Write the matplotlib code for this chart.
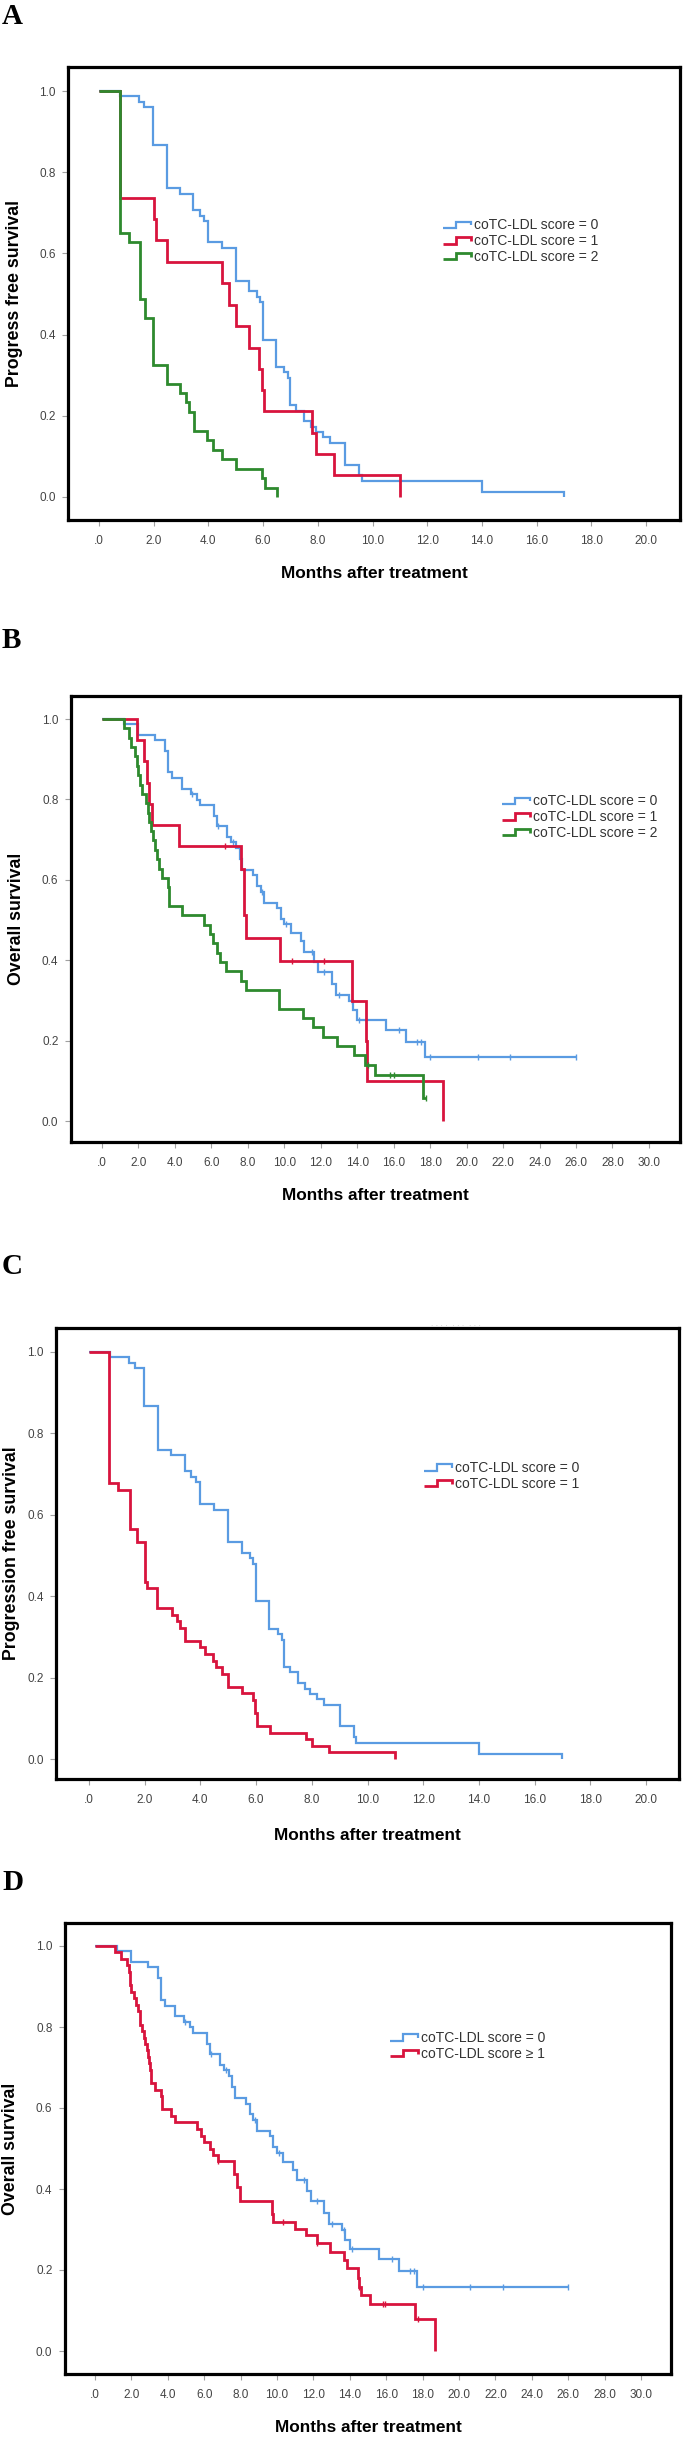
import numpy as np
import matplotlib
matplotlib.use("Agg")
import matplotlib.pyplot as plt
from matplotlib.legend_handler import HandlerBase
from matplotlib.lines import Line2D

# ---- Kaplan-Meier step data (time in months, survival) ----
# progression free survival, coTC-LDL score = 0
pfs0_t = [0, 0.75, 1.45, 1.65, 1.97, 2.47, 2.95, 3.45, 3.68, 3.85, 3.98, 4.48, 5.0, 5.48, 5.78, 5.9,
          6.0, 6.48, 6.78, 6.92, 7.0, 7.2, 7.5, 7.75, 7.95, 8.2, 8.45, 9.0, 9.5, 9.6, 14.0, 17.0]
pfs0_s = [1.0, 0.987, 0.973, 0.960, 0.867, 0.760, 0.747, 0.707, 0.693, 0.680, 0.627, 0.613, 0.533,
          0.507, 0.493, 0.480, 0.387, 0.320, 0.307, 0.293, 0.227, 0.213, 0.187, 0.173, 0.160, 0.147,
          0.133, 0.080, 0.053, 0.040, 0.013, 0.0]
# score = 1
pfs1_t = [0, 0.75, 2.0, 2.1, 2.47, 4.48, 4.75, 5.0, 5.48, 5.86, 5.96, 6.05, 7.77, 7.95, 8.6, 11.0]
pfs1_s = [1.0, 0.737, 0.684, 0.632, 0.579, 0.526, 0.474, 0.421, 0.368, 0.316, 0.263, 0.211, 0.158,
          0.105, 0.053, 0.0]
# score = 2
pfs2_t = [0, 0.75, 1.1, 1.5, 1.67, 1.97, 2.47, 2.95, 3.18, 3.3, 3.48, 3.95, 4.15, 4.48, 5.0, 5.97,
          6.08, 6.5]
pfs2_s = [1.0, 0.651, 0.628, 0.488, 0.442, 0.326, 0.279, 0.256, 0.233, 0.209, 0.163, 0.140, 0.116,
          0.093, 0.070, 0.047, 0.023, 0.0]
# score = 1 or 2 (panel C)
pfs12_t = [0, 0.72, 1.05, 1.47, 1.71, 2.0, 2.07, 2.45, 2.97, 3.15, 3.27, 3.45, 4.0, 4.17, 4.46, 4.55,
           4.76, 5.0, 5.48, 5.9, 5.97, 6.05, 6.5, 7.8, 8.0, 8.6, 11.0]
pfs12_s = [1.0, 0.677, 0.661, 0.565, 0.532, 0.435, 0.419, 0.371, 0.355, 0.339, 0.323, 0.290, 0.274,
           0.258, 0.242, 0.226, 0.210, 0.177, 0.161, 0.145, 0.113, 0.081, 0.065, 0.048, 0.032,
           0.016, 0.0]

# overall survival, score = 0
os0_t = [0, 1.2, 2.0, 2.9, 3.45, 3.6, 3.85, 4.4, 4.9, 5.2, 5.4, 6.15, 6.3, 6.85, 7.1, 7.35, 7.55,
         7.7, 8.3, 8.5, 8.7, 8.9, 9.6, 9.8, 10.0, 10.35, 10.9, 11.1, 11.65, 11.85, 12.6, 12.85,
         13.55, 13.75, 14.0, 15.6, 16.7, 17.7, 26.0]
os0_s = [1.0, 0.987, 0.960, 0.947, 0.920, 0.867, 0.853, 0.827, 0.813, 0.799, 0.786, 0.759, 0.733,
         0.706, 0.693, 0.679, 0.652, 0.625, 0.611, 0.584, 0.570, 0.543, 0.530, 0.503, 0.490, 0.467,
         0.447, 0.421, 0.396, 0.370, 0.341, 0.313, 0.298, 0.275, 0.251, 0.226, 0.197, 0.158, 0.158]
os0_cens = [4.95, 6.35, 7.2, 8.8, 10.1, 11.5, 12.2, 13.0, 13.7, 14.1, 16.3, 17.3, 17.5, 18.0,
            20.6, 22.4, 26.0]
# score = 1
os1_t = [0, 1.9, 2.3, 2.45, 2.6, 2.75, 4.2, 7.6, 7.8, 7.9, 9.75, 13.7, 14.5, 14.55, 18.7]
os1_s = [1.0, 0.947, 0.895, 0.842, 0.789, 0.737, 0.684, 0.627, 0.513, 0.456, 0.399, 0.299, 0.200,
         0.100, 0.0]
os1_cens = [6.75, 10.4, 12.2]
# score = 2
os2_t = [0, 1.2, 1.5, 1.6, 1.8, 1.9, 2.0, 2.1, 2.2, 2.4, 2.5, 2.6, 2.7, 2.8, 2.9, 3.0, 3.1, 3.3,
         3.6, 3.7, 4.4, 5.6, 5.9, 6.1, 6.3, 6.5, 6.8, 7.6, 7.9, 9.7, 11.0, 11.6, 12.1, 12.9, 13.8,
         14.4, 15.0, 17.6, 17.8]
os2_s = [1.0, 0.977, 0.953, 0.930, 0.907, 0.884, 0.860, 0.837, 0.814, 0.791, 0.767, 0.744, 0.721,
         0.698, 0.674, 0.651, 0.628, 0.605, 0.581, 0.535, 0.512, 0.488, 0.465, 0.442, 0.419, 0.395,
         0.372, 0.349, 0.326, 0.279, 0.256, 0.233, 0.209, 0.186, 0.163, 0.140, 0.114, 0.057, 0.057]
os2_cens = [14.6, 15.8, 16.0, 17.8]
# score >= 1 (panel D)
os12_t = [0, 1.1, 1.45, 1.75, 1.85, 1.9, 2.0, 2.15, 2.25, 2.35, 2.45, 2.6, 2.7, 2.75, 2.85, 2.9,
          2.95, 3.0, 3.05, 3.3, 3.6, 3.7, 4.15, 4.4, 5.6, 5.8, 6.0, 6.3, 6.5, 6.75, 7.65, 7.8, 7.95,
          9.7, 9.8, 11.0, 11.6, 12.2, 12.9, 13.7, 13.85, 14.45, 14.5, 14.6, 15.1, 17.6, 18.7]
os12_s = [1.0, 0.984, 0.968, 0.952, 0.935, 0.903, 0.887, 0.871, 0.855, 0.839, 0.806, 0.790, 0.774,
          0.758, 0.742, 0.726, 0.710, 0.694, 0.661, 0.645, 0.629, 0.597, 0.581, 0.565, 0.548,
          0.532, 0.516, 0.500, 0.484, 0.468, 0.437, 0.406, 0.371, 0.339, 0.318, 0.302, 0.286,
          0.266, 0.245, 0.225, 0.204, 0.180, 0.159, 0.138, 0.117, 0.080, 0.0]
os12_cens = [6.75, 10.35, 12.2, 14.5, 15.8, 15.95, 17.75]

labels3 = ["coTC-LDL score = 0", "coTC-LDL score = 1", "coTC-LDL score = 2"]
labels_d = ["coTC-LDL score = 0", "coTC-LDL score \u2265 1"]

BLUE = "#5a9be2"
RED = "#d8143d"
GREEN = "#2e8a2e"

plt.rcParams["font.family"] = ["Liberation Sans", "DejaVu Sans"]

W, H = 685, 2438
fig = plt.figure(figsize=(W / 100, H / 100), dpi=100)


def fx(x):
    return x / W


def fy(y):
    return 1 - y / H


def surv_at(t, s, c):
    idx = np.searchsorted(t, c, side="right") - 1
    return np.asarray(s)[idx]


class StepHandler(HandlerBase):
    def create_artists(self, legend, orig, xd, yd, width, height, fontsize, trans):
        xs = np.array([0, 0.45, 0.45, 0.95, 0.95]) * width - xd
        ys = np.array([0.15, 0.15, 0.8, 0.8, 0.4]) * height - yd
        ln = Line2D(xs, ys, color=orig.get_color(), lw=orig.get_linewidth(),
                    solid_joinstyle="miter", solid_capstyle="butt")
        ln.set_transform(trans)
        return [ln]


def panel(box, x0px, xstep_px, y1px, y0px, xmax, curves, leg_xy, ylabel, letter, letter_y,
          ylab_x, xlab_y):
    l, t, r, b = box
    ax = fig.add_axes([fx(l), fy(b), fx(r - l), (b - t) / H])
    ppm = xstep_px
    ax.set_xlim((l - x0px) / ppm, (r - x0px) / ppm)
    ppu = y0px - y1px
    ax.set_ylim(-(b - y0px) / ppu, 1 + (y1px - t) / ppu)

    for tt, ss, cens, col, lw, lab in curves:
        ax.step(tt, ss, where="post", color=col, lw=lw, label=lab,
                solid_joinstyle="miter", solid_capstyle="butt")
        if cens:
            ax.plot(cens, surv_at(tt, ss, cens), ls="none", marker="|", ms=5, mew=1.0, color=col)

    xt = np.arange(0, xmax + 1, 2)
    ax.set_xticks(xt)
    ax.set_xticklabels([".0"] + ["%.1f" % v for v in xt[1:]])
    yt = np.arange(0, 1.01, 0.2)
    ax.set_yticks(yt)
    ax.set_yticklabels(["%.1f" % v for v in yt])
    ax.tick_params(axis="both", direction="out", length=4, width=0.8, color="#a0a0a0",
                   labelsize=8.5, labelcolor="#444444")
    ax.tick_params(axis="x", pad=7)
    ax.tick_params(axis="y", pad=5)
    for sp in ax.spines.values():
        sp.set_linewidth(2.3)
        sp.set_color("black")

    ax.legend(handler_map={Line2D: StepHandler()}, loc="center left",
              bbox_to_anchor=(fx(leg_xy[0]), fy(leg_xy[1])), bbox_transform=fig.transFigure,
              frameon=False, borderpad=0, borderaxespad=0, handlelength=2.1,
              handletextpad=0.1, labelspacing=0.12, fontsize=10, labelcolor="#333333")

    fig.text(fx(ylab_x), fy((t + b) / 2), ylabel, rotation=90, ha="center", va="center",
             fontsize=12.8, fontweight="bold")
    fig.text(fx((l + r) / 2), fy(xlab_y), "Months after treatment", ha="center", va="center",
             fontsize=12.4, fontweight="bold")
    fig.text(fx(2), fy(letter_y), letter, ha="left", va="center", fontsize=21,
             fontweight="bold", family="Liberation Serif")
    return ax


panel((68, 67, 680, 520), 99, 27.35, 91, 497, 20,
      [(pfs0_t, pfs0_s, None, BLUE, 1.6, labels3[0]),
       (pfs1_t, pfs1_s, None, RED, 2.0, labels3[1]),
       (pfs2_t, pfs2_s, None, GREEN, 2.0, labels3[2])],
      (443, 241), "Progress free survival", "A", 17, 15, 573)

panel((71, 696, 680, 1142), 102, 18.23, 719, 1121, 30,
      [(os0_t, os0_s, os0_cens, BLUE, 1.6, labels3[0]),
       (os1_t, os1_s, os1_cens, RED, 2.0, labels3[1]),
       (os2_t, os2_s, os2_cens, GREEN, 2.0, labels3[2])],
      (502, 817), "Overall survival", "B", 640, 17, 1196)

panel((56, 1328, 679, 1779), 89, 27.85, 1352, 1759, 20,
      [(pfs0_t, pfs0_s, None, BLUE, 1.6, labels3[0]),
       (pfs12_t, pfs12_s, None, RED, 2.0, labels3[1])],
      (424, 1476), "Progression free survival", "C", 1267, 12, 1835)

panel((65, 1923, 671, 2374), 95, 18.2, 1946, 2351, 30,
      [(os0_t, os0_s, os0_cens, BLUE, 1.6, labels_d[0]),
       (os12_t, os12_s, os12_cens, RED, 2.0, labels_d[1])],
      (390, 2046), "Overall survival", "D", 1883, 11, 2427)

# faint leftover marks above panel C
fig.text(fx(456), fy(1325), ". . . .  . . .  . . .", ha="center", va="center", fontsize=6,
         color="#c8c8c8")

fig.savefig("out.png", dpi=100)
